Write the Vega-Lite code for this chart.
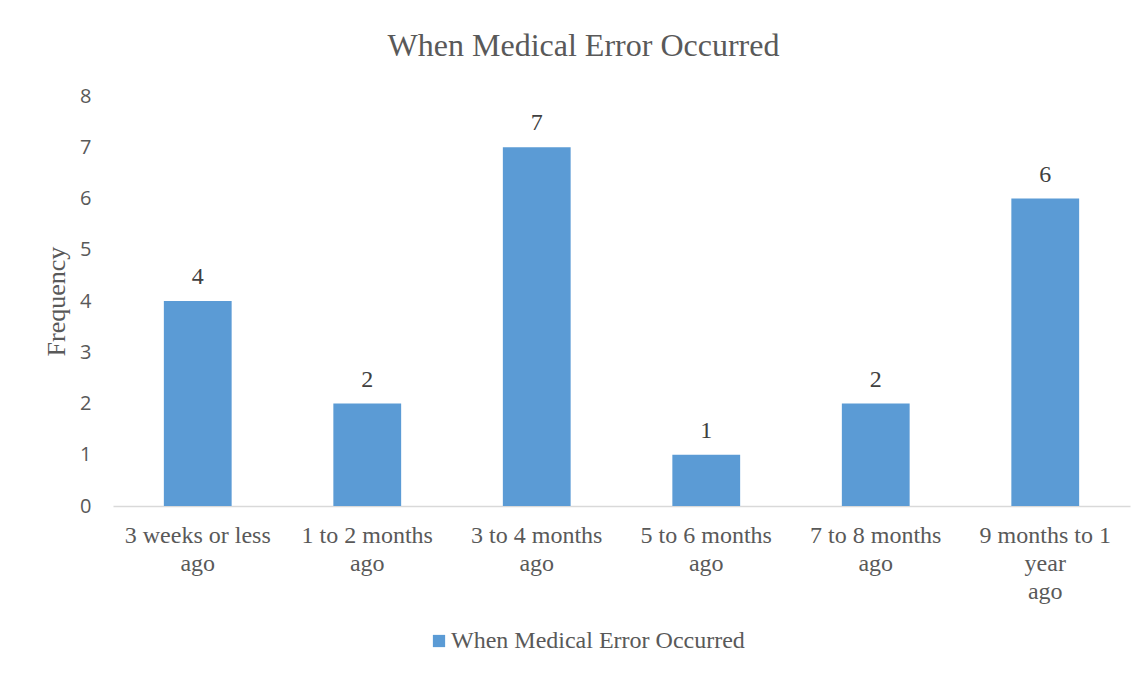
{
  "$schema": "https://vega.github.io/schema/vega-lite/v6.json",
  "autosize": {"type": "none"},
  "width": 1017,
  "height": 410,
  "padding": {"left": 113, "top": 96, "right": 15, "bottom": 169},
  "background": "white",
  "title": {
    "text": "When Medical Error Occurred",
    "font": "Liberation Serif",
    "fontSize": 32,
    "fontWeight": "normal",
    "color": "#595959",
    "anchor": "middle",
    "dx": -38,
    "offset": 23
  },
  "data": {
    "values": [
      {"period": "3 weeks or less ago", "frequency": 4, "series": "When Medical Error Occurred"},
      {"period": "1 to 2 months ago", "frequency": 2, "series": "When Medical Error Occurred"},
      {"period": "3 to 4 months ago", "frequency": 7, "series": "When Medical Error Occurred"},
      {"period": "5 to 6 months ago", "frequency": 1, "series": "When Medical Error Occurred"},
      {"period": "7 to 8 months ago", "frequency": 2, "series": "When Medical Error Occurred"},
      {"period": "9 months to 1 year ago", "frequency": 6, "series": "When Medical Error Occurred"}
    ]
  },
  "encoding": {
    "x": {
      "field": "period",
      "type": "nominal",
      "sort": null,
      "scale": {"paddingInner": 0.6, "paddingOuter": 0.3},
      "axis": {
        "title": null,
        "labelAngle": 0,
        "labelFont": "Liberation Serif",
        "labelFontSize": 24,
        "labelColor": "#595959",
        "labelPadding": 17,
        "labelLineHeight": 28,
        "labelLimit": 0,
        "labelExpr": "datum.label == '9 months to 1 year ago' ? ['9 months to 1', 'year', 'ago'] : [replace(datum.label, ' ago', ''), 'ago']",
        "ticks": false,
        "domainColor": "#d9d9d9",
        "domainWidth": 1.5,
        "grid": false
      }
    },
    "y": {
      "field": "frequency",
      "type": "quantitative",
      "scale": {"domain": [0, 8]},
      "axis": {
        "title": "Frequency",
        "titleFont": "Liberation Serif",
        "titleFontSize": 26,
        "titleFontWeight": "normal",
        "titleColor": "#595959",
        "titlePadding": 10,
        "values": [0, 1, 2, 3, 4, 5, 6, 7, 8],
        "labelOverlap": false,
        "labelFont": "Open Sans",
        "labelFontSize": 20,
        "labelColor": "#595959",
        "labelPadding": 22,
        "ticks": false,
        "domain": false,
        "grid": false
      }
    }
  },
  "layer": [
    {
      "mark": {"type": "bar", "color": "#5B9BD5"},
      "encoding": {
        "color": {
          "field": "series",
          "type": "nominal",
          "scale": {"range": ["#5B9BD5"]},
          "legend": {
            "title": null,
            "orient": "none",
            "legendX": 314,
            "legendY": 533,
            "symbolType": "square",
            "symbolSize": 150,
            "symbolStrokeWidth": 0,
            "labelOffset": 0,
            "labelFont": "Liberation Serif",
            "labelFontSize": 24,
            "labelColor": "#595959",
            "labelLimit": 0
          }
        }
      }
    },
    {
      "mark": {
        "type": "text",
        "baseline": "bottom",
        "dy": -12,
        "font": "Liberation Serif",
        "fontSize": 24,
        "color": "#404040"
      },
      "encoding": {
        "text": {"field": "frequency", "type": "quantitative"}
      }
    }
  ],
  "config": {
    "view": {"stroke": null}
  }
}
